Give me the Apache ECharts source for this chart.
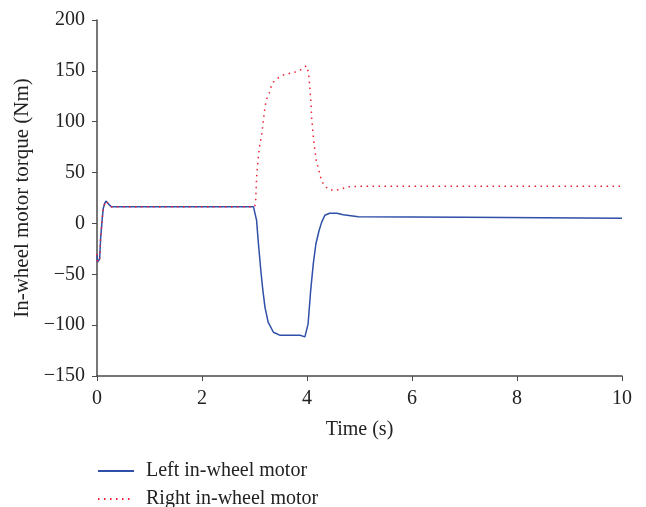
<!DOCTYPE html>
<html>
<head>
<meta charset="utf-8">
<script src="https://cdn.jsdelivr.net/npm/echarts@6/dist/echarts.min.js"></script>
<style>html,body{margin:0;padding:0;background:#fff}#c{width:646px;height:507px}</style>
</head>
<body>
<div id="c"></div>
<script>
var xTicks = [0, 2, 4, 6, 8, 10];
var yTicks = [-150, -100, -50, 0, 50, 100, 150, 200];
var seriesNames = ['Left in-wheel motor', 'Right in-wheel motor'];

var leftT = [0, 0.01, 0.05, 0.07, 0.1, 0.12, 0.15, 0.17, 0.22, 0.27, 2.98, 3.04, 3.07, 3.12, 3.16, 3.2, 3.26, 3.36, 3.49, 3.87, 3.96, 4.02, 4.07, 4.12, 4.17, 4.23, 4.28, 4.34, 4.43, 4.57, 4.69, 4.98, 7.0, 7.01, 10];
var leftV = [-30, -38, -35, -14, 5, 15, 20, 22, 19, 16.5, 16.5, 3, -17, -46, -66, -82.5, -97, -107, -110, -110, -111.5, -99, -66, -39.5, -20, -7, 1.3, 8, 10, 10, 8.5, 6.5, 6, 5, 5];

var rightT = [0, 0.01, 0.05, 0.07, 0.1, 0.12, 0.15, 0.17, 0.22, 0.27, 3.0, 3.02, 3.03, 3.04, 3.07, 3.1, 3.14, 3.17, 3.2, 3.23, 3.28, 3.31, 3.36, 3.45, 3.55, 3.68, 3.79, 3.9, 3.99, 4.03, 4.05, 4.07, 4.09, 4.12, 4.15, 4.18, 4.22, 4.25, 4.28, 4.33, 4.43, 4.55, 4.66, 4.79, 5.0, 10];
var rightV = [-30, -38, -35, -14, 5, 15, 20, 22, 19, 16.5, 16.5, 19.4, 32.5, 45.7, 63.8, 77, 88.5, 101.5, 114.7, 122, 128, 133.5, 139, 143, 146, 147.6, 149, 151.5, 155, 148, 136, 123, 103, 85, 72, 60.5, 54, 47, 42, 37, 33, 32.5, 34, 36, 36.5, 36.5];

function pairs(t, v) { return t.map(function (x, i) { return [x, v[i]]; }); }

var font = '"Liberation Serif", "DejaVu Serif", serif';
var fs = 20;
var axisColor = '#4a4a4a';
var blue = '#2f4fa8', red = '#ee2233';

function legendFor(name, top) {
  return {
    orient: 'vertical', left: 97, top: top, padding: 0,
    itemWidth: 36, itemHeight: 12,
    itemStyle: { opacity: 0 },
    textStyle: { fontFamily: font, fontSize: fs, color: '#222', padding: [0, 0, 0, 7] },
    data: [name]
  };
}

var chart = echarts.init(document.getElementById('c'), null, { renderer: 'canvas' });
chart.setOption({
  animation: false,
  backgroundColor: '#fff',
  textStyle: { fontFamily: font },
  grid: { left: 97, right: 24, top: 20, bottom: 131 },
  legend: [legendFor(seriesNames[0], 461), legendFor(seriesNames[1], 489)],
  xAxis: {
    type: 'value', min: 0, max: 10, interval: 2,
    name: 'Time (s)', nameLocation: 'middle', nameGap: 44,
    nameTextStyle: { fontFamily: font, fontSize: fs, color: '#222' },
    axisLine: { onZero: false, lineStyle: { color: axisColor, width: 1.5 } },
    axisTick: { show: true, length: 5, lineStyle: { color: axisColor } },
    axisLabel: { fontFamily: font, fontSize: fs, color: '#222', margin: 13,
      formatter: function (v) { return xTicks.indexOf(v) >= 0 ? String(v) : ''; } },
    splitLine: { show: false }
  },
  yAxis: {
    type: 'value', min: -150, max: 200, interval: 50,
    name: 'In-wheel motor torque (Nm)', nameLocation: 'middle', nameGap: 63,
    nameTextStyle: { fontFamily: font, fontSize: 21, color: '#222' },
    axisLine: { show: true, lineStyle: { color: axisColor, width: 1.5 } },
    axisTick: { show: true, length: 5, lineStyle: { color: axisColor } },
    axisLabel: { fontFamily: font, fontSize: fs, color: '#222', margin: 12,
      formatter: function (v) { return yTicks.indexOf(v) >= 0 ? String(v).replace('-', '\u2212') : ''; } },
    splitLine: { show: false }
  },
  series: [
    {
      name: seriesNames[0], type: 'line', symbol: 'none',
      data: pairs(leftT, leftV),
      lineStyle: { color: blue, width: 1.5 },
      itemStyle: { color: blue }
    },
    {
      name: seriesNames[1], type: 'line', symbol: 'none',
      data: pairs(rightT, rightV),
      lineStyle: { color: red, width: 1.5, type: [1.5, 4.5] },
      itemStyle: { color: red }
    }
  ]
});
</script>
</body>
</html>
